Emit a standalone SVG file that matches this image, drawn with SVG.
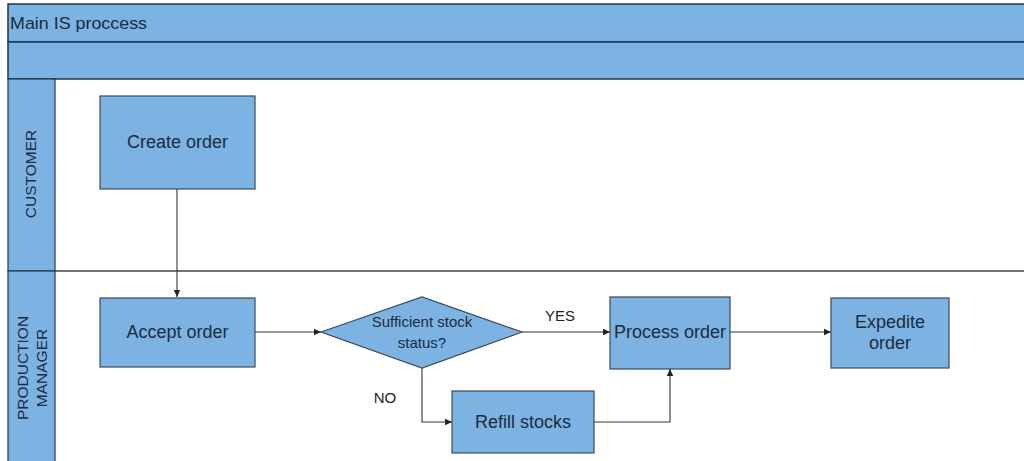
<svg xmlns="http://www.w3.org/2000/svg" width="1024" height="461" viewBox="0 0 1024 461">
  <style>
    .band { fill: #7db3e2; stroke: #1d3650; stroke-width: 1.5; }
    .lanecol { fill: #7db3e2; stroke: #1d3650; stroke-width: 1.2; }
    .node { fill: #7db3e2; stroke: #3a4a5a; stroke-width: 1.2; }
    .lbl { font-family: "Liberation Sans", Arial, sans-serif; fill: #1b2b40; text-anchor: middle; }
    .conn { fill: none; stroke: #333; stroke-width: 1.1; }
    .edge-lbl { font-family: "Liberation Sans", Arial, sans-serif; fill: #222; font-size: 15px; text-anchor: middle; }
  </style>
  <defs>
    <marker id="arrow" markerWidth="8" markerHeight="8" refX="7" refY="4" orient="auto" markerUnits="userSpaceOnUse">
      <path d="M0,0.8 L7,4 L0,7.2 Z" fill="#222"/>
    </marker>
  </defs>

  <rect x="0" y="0" width="1024" height="461" fill="#ffffff"/>

  <!-- pool header -->
  <g id="pool-header">
    <rect class="band" x="8" y="4" width="1020" height="38"/>
    <rect class="band" x="8" y="42" width="1020" height="37"/>
    <text x="10" y="29" font-family="Liberation Sans, Arial, sans-serif" font-size="17" fill="#1b2b40" textLength="137" lengthAdjust="spacingAndGlyphs">Main IS proccess</text>
  </g>

  <!-- lanes -->
  <g id="lane-customer">
    <rect class="lanecol" x="8" y="79" width="47" height="192"/>
    <text class="lbl" font-size="15.5" transform="translate(36,174) rotate(-90)">CUSTOMER</text>
  </g>
  <g id="lane-production">
    <rect class="lanecol" x="8" y="271" width="47" height="195"/>
    <text class="lbl" font-size="15.5" transform="translate(28,368) rotate(-90)">PRODUCTION</text>
    <text class="lbl" font-size="15.5" transform="translate(46.5,368) rotate(-90)">MANAGER</text>
  </g>
  <line x1="55" y1="271" x2="1024" y2="271" stroke="#444" stroke-width="1.3"/>

  <!-- connectors -->
  <g id="connectors">
    <path class="conn" d="M177,189 V297" marker-end="url(#arrow)"/>
    <path class="conn" d="M255,332 H321" marker-end="url(#arrow)"/>
    <path class="conn" d="M522,332 H610" marker-end="url(#arrow)"/>
    <path class="conn" d="M730,332 H831" marker-end="url(#arrow)"/>
    <path class="conn" d="M422,368 V422 H452" marker-end="url(#arrow)"/>
    <path class="conn" d="M594,422 H670 V369" marker-end="url(#arrow)"/>
    <text class="edge-lbl" x="560" y="321">YES</text>
    <text class="edge-lbl" x="385" y="403">NO</text>
  </g>

  <!-- nodes -->
  <g id="create-order">
    <rect class="node" x="100" y="96" width="155" height="93"/>
    <text class="lbl" x="177.5" y="148" font-size="18">Create order</text>
  </g>
  <g id="accept-order">
    <rect class="node" x="100" y="298" width="155" height="69"/>
    <text class="lbl" x="177.5" y="338" font-size="18">Accept order</text>
  </g>
  <g id="stock-decision">
    <polygon class="node" points="321,332 422,297 522,332 422,368"/>
    <text class="lbl" x="422" y="327" font-size="15">Sufficient stock</text>
    <text class="lbl" x="422" y="348" font-size="15">status?</text>
  </g>
  <g id="process-order">
    <rect class="node" x="610" y="297" width="120" height="72"/>
    <text class="lbl" x="670" y="338" font-size="18">Process order</text>
  </g>
  <g id="expedite-order">
    <rect class="node" x="831" y="298" width="118" height="70"/>
    <text class="lbl" x="890" y="328" font-size="18">Expedite</text>
    <text class="lbl" x="890" y="349" font-size="18">order</text>
  </g>
  <g id="refill-stocks">
    <rect class="node" x="452" y="391" width="142" height="62"/>
    <text class="lbl" x="523" y="428" font-size="18">Refill stocks</text>
  </g>
</svg>
